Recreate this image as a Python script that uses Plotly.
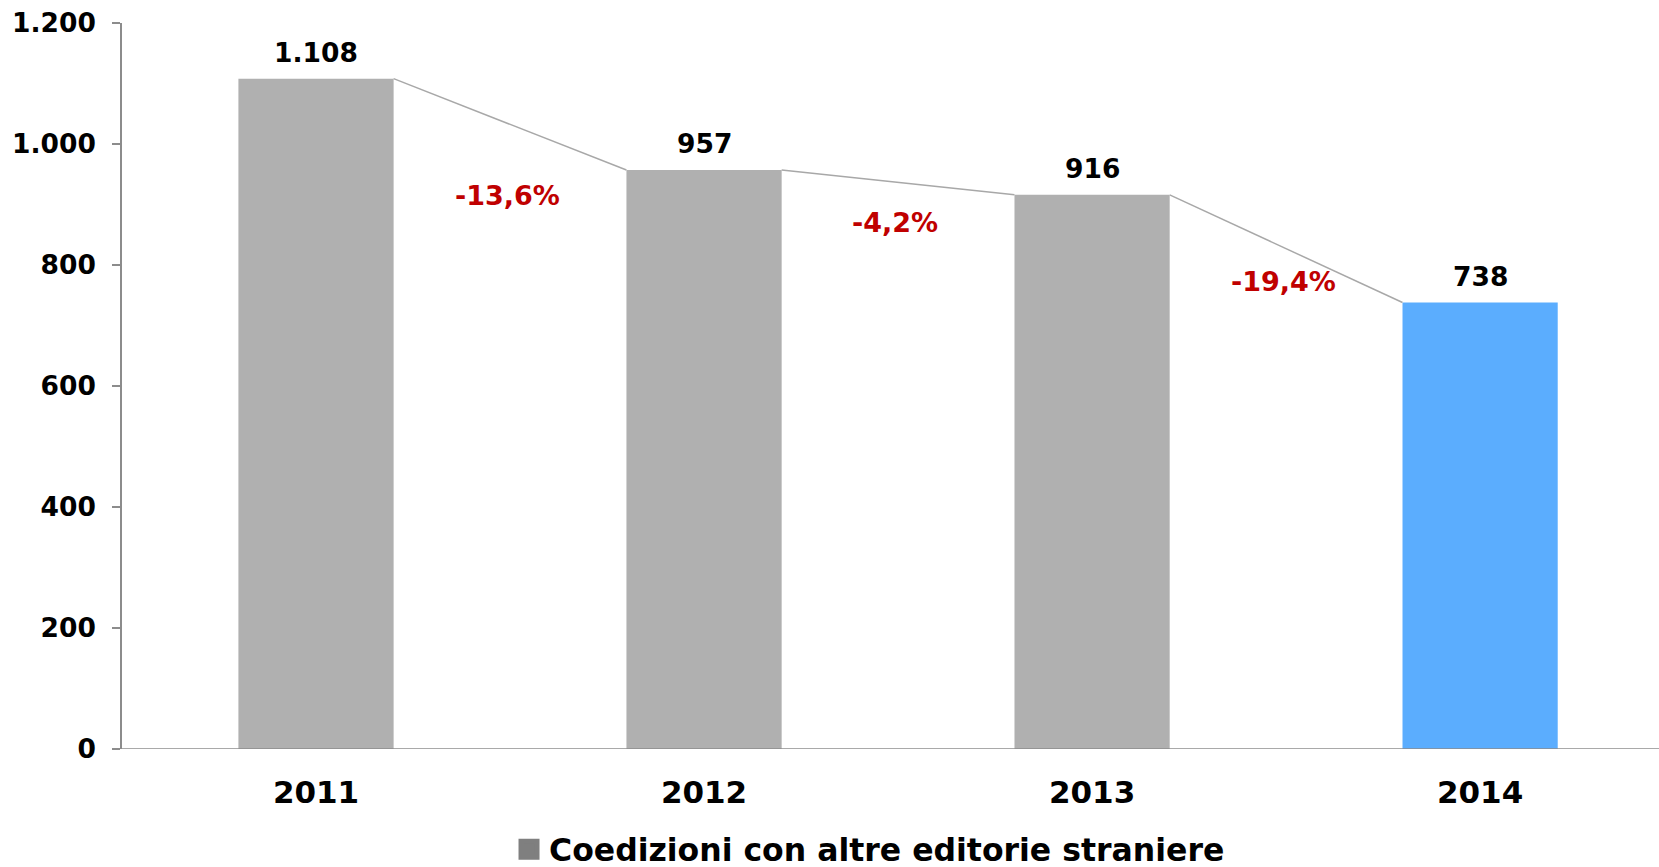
import plotly.graph_objects as go

years = ["2011", "2012", "2013", "2014"]
values = [1108, 957, 916, 738]
bar_colors = ["#b0b0b0", "#b0b0b0", "#b0b0b0", "#5badfe"]
pct_labels = ["-13,6%", "-4,2%", "-19,4%"]
pct_label_y = [915, 870, 772]
y_ticks = [0, 200, 400, 600, 800, 1000, 1200]
legend_name = "Coedizioni con altre editorie straniere"

FONT = "Verdana, DejaVu Sans, sans-serif"
bar_w = 0.4
xs = list(range(len(years)))

fig = go.Figure()

# connector line between bar tops
lx, ly = [], []
for i in range(len(values) - 1):
    lx += [xs[i] + bar_w / 2, xs[i + 1] - bar_w / 2, None]
    ly += [values[i], values[i + 1], None]
fig.add_trace(go.Scatter(x=lx, y=ly, mode="lines", line=dict(color="#a8a8a8", width=1.5),
                         showlegend=False, hoverinfo="skip"))

fig.add_trace(go.Bar(x=xs, y=values, width=bar_w, marker=dict(color=bar_colors, line=dict(width=0)),
                     showlegend=False, name=legend_name))

# legend entry
fig.add_trace(go.Scatter(x=[None], y=[None], mode="markers", name=legend_name,
                         marker=dict(symbol="square", size=22, color="#7f7f7f",
                                     line=dict(color="#7f7f7f", width=5))))

annotations = []
for x, v in zip(xs, values):
    annotations.append(dict(x=x, y=v, xref="x", yref="y", text=f"{v:,}".replace(",", "."),
                            showarrow=False, yanchor="bottom", yshift=9,
                            font=dict(family=FONT, size=26.5, color="#000000", weight="bold")))
for i, (t, yy) in enumerate(zip(pct_labels, pct_label_y)):
    annotations.append(dict(x=xs[i] + 0.5, y=yy, xref="x", yref="y", text=t, showarrow=False,
                            yanchor="middle", xshift=-3,
                            font=dict(family=FONT, size=27, color="#c00000", weight="bold")))

fig.update_layout(
    width=1659, height=867,
    margin=dict(l=122, r=0, t=23, b=118, autoexpand=False),
    plot_bgcolor="white", paper_bgcolor="white",
    separators=",.",
    annotations=annotations,
    showlegend=True,
    legend=dict(orientation="h", x=0.2518, xanchor="left", y=-0.138, yanchor="middle",
                itemsizing="trace", borderwidth=0,
                font=dict(family=FONT, size=31.5, color="#000000", weight="bold")),
    xaxis=dict(range=[-0.5, 3.461], tickvals=xs, ticktext=years, showgrid=False, zeroline=False,
               showline=False, ticks="", ticklabelstandoff=22,
               tickfont=dict(family=FONT, size=31, color="#000000", weight="bold")),
    yaxis=dict(range=[0, 1200], tickvals=y_ticks, tickformat=",d", showgrid=False, zeroline=False,
               showline=True, linecolor="#8c8c8c", linewidth=1.5, ticks="outside", ticklen=8,
               tickcolor="#8c8c8c", tickwidth=1.5, ticklabelstandoff=11,
               tickfont=dict(family=FONT, size=26.5, color="#000000", weight="bold")),
    shapes=[dict(type="line", xref="paper", yref="y", x0=-8 / 1537, x1=1, y0=0, y1=0,
                 line=dict(color="#8c8c8c", width=1.5))],
)

fig.write_html("out.html")
